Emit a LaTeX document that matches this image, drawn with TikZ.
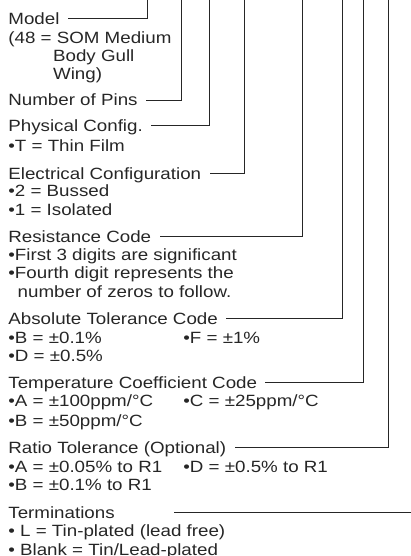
\documentclass[tikz,border=0pt]{standalone}
\usepackage{fontspec}
\setmainfont{Liberation Sans}[FakeStretch=1.15]
\usepackage{xcolor}

\begin{document}
\begin{tikzpicture}[x=1pt, y=-1pt, line width=0.8pt, color=black!85,
      every node/.append style={anchor=base west, inner xsep=8pt, inner ysep=0pt,
        text height=12pt, text depth=0pt, font=\fontsize{16.3}{18.5}\selectfont}]
	  \tikzstyle{col2} = [xshift=175pt]
	  \useasboundingbox (0,0) rectangle (411,556);
	  % top ends of the leads
	  \foreach \n/\x in {1/147, 2/181, 3/209, 4/244, 5/302, 6/342, 7/363, 8/388, 9/411}
	    \coordinate (top_\n) at (\x,0);
	  \coordinate (t_start) at (174,0);
	  % model
	  \node (h_1) at (0,24.5) {Model};
	  \node (d_1a) at (0,43.3) {(48 = SOM Medium};
	  \node (d_1b) at (44.7,61.7) {Body Gull};
	  \node (d_1c) at (44.7,80) {Wing)};
	  % pins
	  \node (h_2) at (0,106) {Number of Pins};
	  % physical
	  \node (h_3) at (0,131.7) {Physical Config.};
	  \node (d_3a) at (0,151.7) {•T = Thin Film};
	  % electrical
	  \node (h_4) at (0,179) {Electrical Configuration};
	  \node (d_4a) at (0,196.7) {•2 = Bussed};
	  \node (d_4b) at (0,215.7) {•1 = Isolated};
	  % resistance
	  \node (h_5) at (0,242.3) {Resistance Code};
	  \node (d_5a) at (0,260) {•First 3 digits are significant};
	  \node (d_5b) at (0,278.3) {•Fourth digit represents the};
	  \node (d_5c) at (9.3,297.3) {number of zeros to follow.};
	  % absolute tolerance
	  \node (h_6) at (0,324) {Absolute Tolerance Code};
	  \node (d_6a) at (0,343.3) {•B = ±0.1\%};
	  \node (d_6b) [col2] at (0,343.3) {•F = ±1\%};
	  \node (d_6c) at (0,361.7) {•D = ±0.5\%};
	  % temperature coefficient
	  \node (h_7) at (0,388.3) {Temperature Coefficient Code};
	  \node (d_7a) at (0,406.7) {•A = ±100ppm/°C};
	  \node (d_7b) [col2] at (0,406.7) {•C = ±25ppm/°C};
	  \node (d_7c) at (0,426) {•B = ±50ppm/°C};
	  % ratio tolerance
	  \node (h_8) at (0,453.3) {Ratio Tolerance (Optional)};
	  \node (d_8a) at (0,472.3) {•A = ±0.05\% to R1};
	  \node (d_8b) [col2] at (0,472.3) {•D = ±0.5\% to R1};
	  \node (d_8c) at (0,490.7) {•B = ±0.1\% to R1};
	  % terminations
	  \node (h_9) at (0,518.3) {Terminations};
	  \node (d_9a) at (0,536.7) {• L = Tin-plated (lead free)};
	  \node (d_9b) at (0,555) {• Blank = Tin/Lead-plated};
	  % leads
	  \foreach \n in {1,...,8}
	    \draw (top_\n) |- (h_\n);
	  \draw (t_start |- h_9) -- (top_9 |- h_9);
\end{tikzpicture}
\end{document}
